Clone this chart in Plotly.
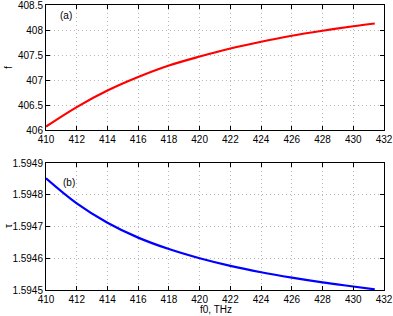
import plotly.graph_objects as go
from plotly.subplots import make_subplots

f0 = [410, 412, 414, 416, 418, 420, 422, 424, 426, 428, 430, 431.4]
f_vals = [406.07, 406.46, 406.79, 407.06, 407.29, 407.47, 407.63, 407.765, 407.885, 407.985, 408.075, 408.13]
tau_vals = [1.594852, 1.594773, 1.594712, 1.594665, 1.594629, 1.594600, 1.594576, 1.594556, 1.594539, 1.594524, 1.594511, 1.594502]

fig = make_subplots(rows=2, cols=1)
fig.add_trace(go.Scatter(x=f0, y=f_vals, mode="lines",
                         line=dict(color="#ff0000", width=2.2, shape="spline", smoothing=1.0)), row=1, col=1)
fig.add_trace(go.Scatter(x=f0, y=tau_vals, mode="lines",
                         line=dict(color="#0000ff", width=2.2, shape="spline", smoothing=1.0)), row=2, col=1)

axis_common = dict(showline=True, linecolor="black", linewidth=1, mirror="ticks", ticks="inside",
                   ticklen=4, tickcolor="black", showgrid=True, gridcolor="#b8b8b8", griddash="1px,3px",
                   gridwidth=1, zeroline=False, automargin=False, ticklabeloverflow="allow",
                   tickfont=dict(size=10, color="black"))

fig.update_xaxes(range=[410, 432], dtick=2, **axis_common)
fig.update_yaxes(**axis_common)
fig.update_layout(
    xaxis=dict(domain=[0, 1]),
    xaxis2=dict(domain=[0, 1]),
    yaxis=dict(domain=[0.561, 1.0], range=[406, 408.5], tickvals=[406, 406.5, 407, 407.5, 408, 408.5],
               ticktext=["406", "406.5", "407", "407.5", "408", "408.5"]),
    yaxis2=dict(domain=[0, 0.4456], range=[1.5945, 1.5949],
                tickvals=[1.5945, 1.5946, 1.5947, 1.5948, 1.5949],
                ticktext=["1.5945", "1.5946", "1.5947", "1.5948", "1.5949"]),
    width=393, height=316,
    margin=dict(l=46, r=9, t=5, b=26),
    paper_bgcolor="white", plot_bgcolor="white",
    showlegend=False,
    font=dict(family="Liberation Sans, Arial, sans-serif", size=10, color="black"),
    annotations=[
        dict(text="(a)", x=411.3, y=408.29, xref="x", yref="y", showarrow=False, font=dict(size=10)),
        dict(text="(b)", x=411.5, y=1.59484, xref="x2", yref="y2", showarrow=False, font=dict(size=10)),
        dict(text="f", x=8, y=68, xref="paper", yref="paper", showarrow=False, textangle=-90,
             font=dict(size=10)),
        dict(text="τ", x=8, y=226, xref="paper", yref="paper", showarrow=False, textangle=-90,
             font=dict(size=10)),
        dict(text="f0, THz", x=216, y=309, xref="paper", yref="paper", showarrow=False,
             font=dict(size=10)),
    ],
)

# convert pixel positions of axis-title annotations to paper fractions
W, H = 393, 316
l, r, t, b = 46, 9, 5, 26
pw, ph = W - l - r, H - t - b
for ann in fig.layout.annotations:
    if ann.xref == "paper":
        ann.x = (ann.x - l) / pw
        ann.y = 1 - (ann.y - t) / ph
        ann.xanchor = "center"
        ann.yanchor = "middle"

fig.write_html("out.html", config={"displayModeBar": False})

with open("out.html", "r", encoding="utf-8") as fh:
    html = fh.read()
html = html.replace("<head>", "<head><style>html,body{margin:0;padding:0;overflow:hidden}</style>", 1)
with open("out.html", "w", encoding="utf-8") as fh:
    fh.write(html)
